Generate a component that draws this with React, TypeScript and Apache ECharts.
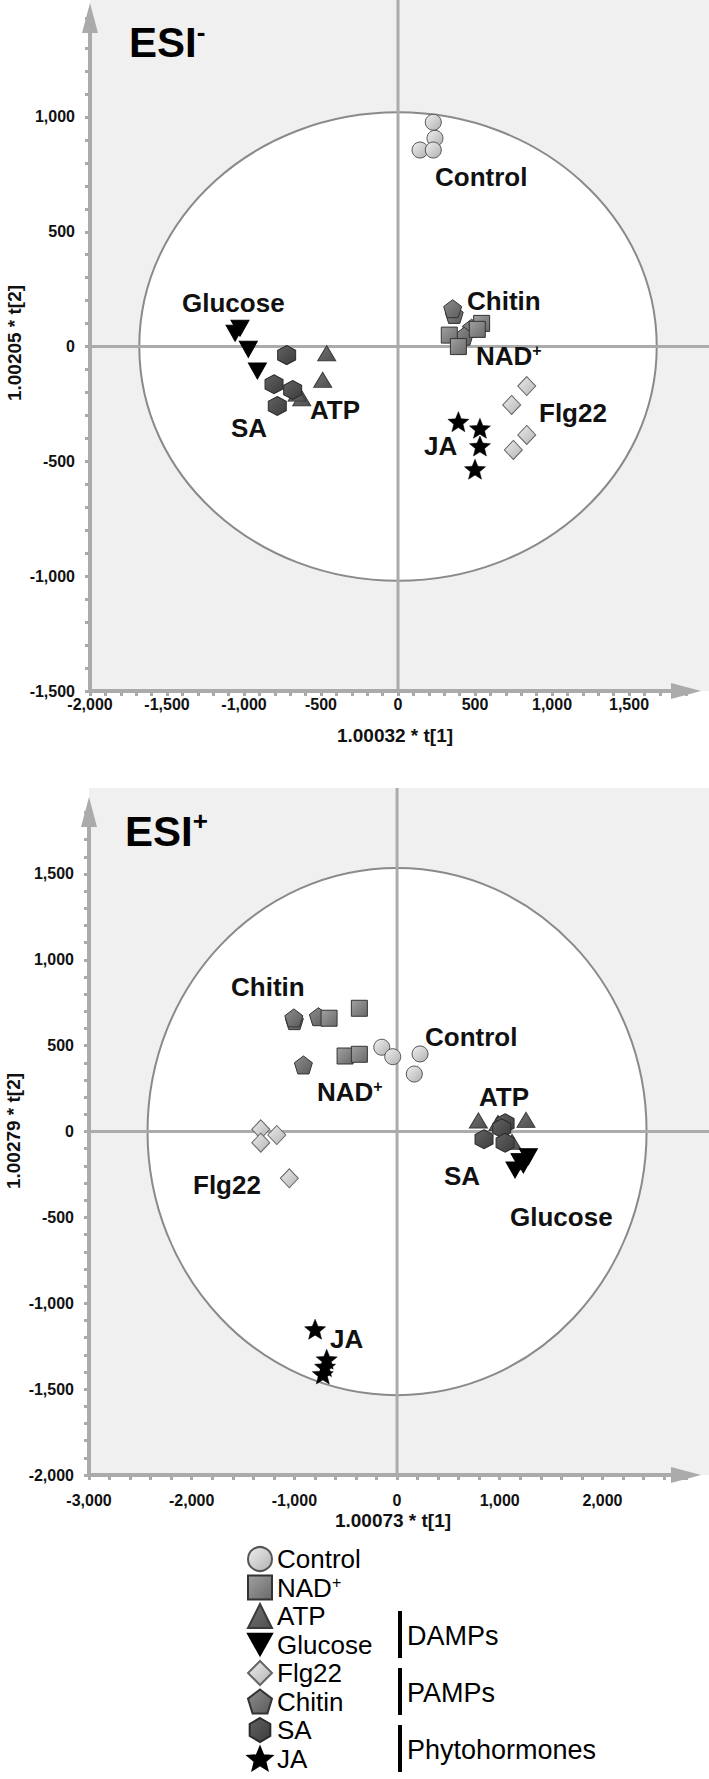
import React, { useEffect, useRef } from 'react';
import * as echarts from 'echarts';

// ---------- data ----------
const groupNames = ['Control', 'NAD+', 'ATP', 'Glucose', 'Flg22', 'Chitin', 'SA', 'JA'];
const groupClasses = ['DAMPs', 'PAMPs', 'Phytohormones'];

// ESI- score plot (t[1], t[2])
const negControl = [[229, 977], [240, 907], [143, 856], [229, 856]];
const negNAD = [[543, 101], [515, 75], [333, 50], [392, 0]];
const negATP = [[-463, -29], [-489, -145], [-625, -225], [-655, -205]];
const negGlucose = [[-1026, 80], [-1058, 58], [-972, -12], [-913, -106]];
const negFlg22 = [[836, -172], [738, -254], [836, -385], [749, -450]];
const negChitin = [[365, 140], [355, 165], [478, 80], [430, 45]];
const negSA = [[-723, -37], [-805, -164], [-684, -189], [-784, -259]];
const negJA = [[392, -327], [532, -356], [532, -433], [500, -534]];

// ESI+ score plot (t[1], t[2])
const posControl = [[-149, 491], [-42, 436], [224, 452], [168, 335]];
const posNAD = [[-662, 660], [-367, 718], [-506, 440], [-367, 450]];
const posATP = [[792, 64], [1256, 68], [983, 50], [1120, -60]];
const posGlucose = [[1279, -146], [1198, -175], [1149, -224], [1230, -195]];
const posFlg22 = [[-1327, 13], [-1171, -20], [-1327, -65], [-1049, -272]];
const posChitin = [[-1000, 646], [-1005, 662], [-766, 669], [-912, 388]];
const posSA = [[847, -45], [1052, 48], [1019, 19], [1052, -65]];
const posJA = [[-798, -1151], [-685, -1326], [-701, -1369], [-723, -1412]];

// Hotelling T2 ellipses: [cx, cy, semi-axis t1, semi-axis t2]
const negEllipse = [0, 0, 1680, 1020];
const posEllipse = [0, 0, 2430, 1535];

// axis ranges and labelled ticks
const negXRange = [-2000, 1870];
const negYRange = [-1500, 1431];
const posXRange = [-3000, 2814];
const posYRange = [-2000, 1861];
const negXTicks = [-2000, -1500, -1000, -500, 0, 500, 1000, 1500];
const negYTicks = [-1500, -1000, -500, 0, 500, 1000];
const posXTicks = [-3000, -2000, -1000, 0, 1000, 2000];
const posYTicks = [-2000, -1500, -1000, -500, 0, 500, 1000, 1500];

const FONT = '"Liberation Sans", Arial, Helvetica, sans-serif';

function grad(c1: string, c2: string) {
  return new echarts.graphic.LinearGradient(0, 0, 1, 1, [
    { offset: 0, color: c1 },
    { offset: 1, color: c2 },
  ]);
}

const PENTAGON = 'path://M50,0 L100,38 L81,100 L19,100 L0,38 Z';
const HEXAGON = 'path://M50,0 L93,25 L93,75 L50,100 L7,75 L7,25 Z';
const STAR =
  'path://M50,2 L62.93,34.2 L97.55,36.55 L70.92,58.8 L79.39,92.45 L50,74 L20.61,92.45 L29.08,58.8 L2.45,36.55 L37.07,34.2 Z';
const DOWN_TRIANGLE = 'path://M0,0 L100,0 L50,90 Z';

const markerStyle: Record<string, any> = {
  Control: { symbol: 'circle', symbolSize: 16, itemStyle: { color: grad('#f0f0f0', '#b0b0b0'), borderColor: '#555', borderWidth: 1 } },
  'NAD+': { symbol: 'rect', symbolSize: 16, itemStyle: { color: grad('#a0a0a0', '#6a6a6a'), borderColor: '#333', borderWidth: 1 } },
  ATP: { symbol: 'triangle', symbolSize: [18, 15], itemStyle: { color: grad('#747474', '#4e4e4e'), borderColor: '#3a3a3a', borderWidth: 1 } },
  Glucose: { symbol: DOWN_TRIANGLE, symbolSize: [18, 16], itemStyle: { color: '#000', borderColor: '#000', borderWidth: 1 } },
  Flg22: { symbol: 'diamond', symbolSize: [18, 19], itemStyle: { color: grad('#ececec', '#b4b4b4'), borderColor: '#666', borderWidth: 1 } },
  Chitin: { symbol: PENTAGON, symbolSize: [18, 18], itemStyle: { color: grad('#8e8e8e', '#5a5a5a'), borderColor: '#333', borderWidth: 1 } },
  SA: { symbol: HEXAGON, symbolSize: [18, 19], itemStyle: { color: grad('#626262', '#3c3c3c'), borderColor: '#2a2a2a', borderWidth: 1 } },
  JA: { symbol: STAR, symbolSize: [21, 20], itemStyle: { color: '#000', borderColor: '#000', borderWidth: 0.5 } },
};

const negData: Record<string, number[][]> = {
  Control: negControl, 'NAD+': negNAD, ATP: negATP, Glucose: negGlucose,
  Flg22: negFlg22, Chitin: negChitin, SA: negSA, JA: negJA,
};
const posData: Record<string, number[][]> = {
  Control: posControl, 'NAD+': posNAD, ATP: posATP, Glucose: posGlucose,
  Flg22: posFlg22, Chitin: posChitin, SA: posSA, JA: posJA,
};
// drawing order (later on top)
const drawOrder = ['Chitin', 'NAD+', 'Control', 'ATP', 'SA', 'Glucose', 'Flg22', 'JA'];

const fmt = (v: number) => Math.round(v).toLocaleString('en-US');

function makeAxes(idx: number, xr: number[], yr: number[], xTicks: number[], yTicks: number[], xInt: number, xLabelMargin: number) {
  const common = {
    type: 'value',
    gridIndex: idx,
    splitLine: { show: false },
    axisLine: {
      show: true,
      onZero: false,
      symbol: ['none', 'triangle'],
      symbolSize: [16, 30],
      lineStyle: { color: '#ababab', width: 4 },
    },
    axisTick: { show: true, length: 5, lineStyle: { color: '#ababab', width: 3 } },
    axisLabel: { color: '#111', fontSize: 16, fontWeight: 'bold', fontFamily: FONT },
  };
  const xs = new Set(xTicks);
  const ys = new Set(yTicks);
  const x = {
    ...common,
    min: xr[0], max: xr[1], interval: xInt,
    axisLabel: { ...common.axisLabel, margin: xLabelMargin, formatter: (v: number) => (xs.has(Math.round(v)) ? fmt(v) : '') },
  };
  const y = {
    ...common,
    min: yr[0], max: yr[1], interval: 100,
    axisLabel: { ...common.axisLabel, margin: 15, formatter: (v: number) => (ys.has(Math.round(v)) ? fmt(v) : '') },
  };
  return { x, y };
}

function ellipseSeries(idx: number, ell: number[], bgTop: number) {
  return {
    type: 'custom',
    xAxisIndex: idx,
    yAxisIndex: idx,
    z: 1,
    silent: true,
    clip: false,
    data: [ell],
    renderItem: (params: any, api: any) => {
      const c = api.coord([api.value(0), api.value(1)]);
      const e = api.coord([api.value(0) + api.value(2), api.value(1) + api.value(3)]);
      const cs = params.coordSys;
      return {
        type: 'group',
        children: [
          {
            type: 'ellipse',
            shape: { cx: c[0], cy: c[1], rx: e[0] - c[0], ry: c[1] - e[1] },
            style: { fill: '#ffffff', stroke: '#8a8a8a', lineWidth: 2 },
          },
          {
            type: 'line',
            shape: { x1: cs.x, y1: c[1], x2: api.getWidth(), y2: c[1] },
            style: { stroke: '#ababab', lineWidth: 3 },
          },
          {
            type: 'line',
            shape: { x1: c[0], y1: bgTop, x2: c[0], y2: cs.y + cs.height },
            style: { stroke: '#ababab', lineWidth: 3 },
          },
        ],
      };
    },
  };
}

function label(text: string, x: number, y: number, sup?: string) {
  const rich = {
    a: { fontSize: 26, fontWeight: 'bold', fontFamily: FONT, fill: '#111', lineHeight: 28 },
    b: { fontSize: 16, fontWeight: 'bold', fontFamily: FONT, fill: '#111', verticalAlign: 'top' },
  };
  return {
    type: 'text',
    x,
    y,
    z: 100,
    style: {
      text: sup ? `{a|${text}}{b|${sup}}` : `{a|${text}}`,
      rich,
      align: 'left',
      verticalAlign: 'middle',
    },
  };
}

function title(text: string, sup: string, x: number, y: number) {
  return {
    type: 'text',
    x,
    y,
    z: 100,
    style: {
      text: `{a|${text}}{b|${sup}}`,
      rich: {
        a: { fontSize: 42, fontWeight: 'bold', fontFamily: FONT, fill: '#000', lineHeight: 46 },
        b: { fontSize: 26, fontWeight: 'bold', fontFamily: FONT, fill: '#000', verticalAlign: 'top' },
      },
      align: 'left',
      verticalAlign: 'middle',
    },
  };
}

function axisTitle(text: string, x: number, y: number, rotate = false) {
  return {
    type: 'text',
    x,
    y,
    z: 100,
    rotation: rotate ? Math.PI / 2 : 0,
    style: {
      text,
      fontSize: 19,
      fontWeight: 'bold',
      fontFamily: FONT,
      fill: '#111',
      align: 'center',
      verticalAlign: 'middle',
    },
  };
}

function plainText(text: string, x: number, y: number) {
  return {
    type: 'text',
    x,
    y,
    z: 100,
    style: { text, fontSize: 27, fontFamily: FONT, fill: '#000', align: 'left', verticalAlign: 'middle' },
  };
}

export default function App() {
  const ref = useRef<HTMLDivElement>(null);

  useEffect(() => {
    document.body.style.margin = '0';
    const chart = echarts.init(ref.current!, null, { renderer: 'svg' });

    const a0 = makeAxes(0, negXRange, negYRange, negXTicks, negYTicks, 100, 5);
    const a1 = makeAxes(1, posXRange, posYRange, posXTicks, posYTicks, 200, 17);

    const scatter: any[] = [];
    [negData, posData].forEach((set, gi) => {
      drawOrder.forEach((name) => {
        const st = markerStyle[name];
        scatter.push({
          type: 'scatter',
          name,
          xAxisIndex: gi,
          yAxisIndex: gi,
          data: set[name],
          symbol: st.symbol,
          symbolSize: st.symbolSize,
          itemStyle: { ...st.itemStyle, opacity: 1 },
          emphasis: { disabled: true },
          z: 3,
        });
      });
    });

    const option: any = {
      animation: false,
      backgroundColor: '#ffffff',
      grid: [
        { left: 90, right: 23, top: 18, height: 673, show: false },
        { left: 89, right: 23, top: 812, height: 663, show: false },
      ],
      xAxis: [a0.x, a1.x],
      yAxis: [a0.y, a1.y],
      legend: {
        data: groupNames.map((n) => ({ name: n, icon: markerStyle[n].symbol })),
        orient: 'vertical',
        left: 247,
        top: 1546,
        height: 400,
        padding: 0,
        itemWidth: 24,
        itemHeight: 24,
        itemGap: 2.5,
        selectedMode: false,
        itemStyle: { opacity: 1 },
        textStyle: {
          fontSize: 25,
          fontFamily: FONT,
          color: '#000',
          lineHeight: 26,
          rich: {
            a: { fontSize: 26, fontFamily: FONT, color: '#000', lineHeight: 26 },
            b: { fontSize: 16, fontFamily: FONT, color: '#000', verticalAlign: 'top' },
          },
        },
        formatter: (n: string) => (n === 'NAD+' ? '{a|NAD}{b|+}' : `{a|${n}}`),
      },
      graphic: [
        { type: 'rect', z: -10, shape: { x: 90, y: 0, width: 619, height: 691 }, style: { fill: '#f0f0f0' } },
        { type: 'rect', z: -10, shape: { x: 89, y: 788, width: 620, height: 687 }, style: { fill: '#f0f0f0' } },
        title('ESI', '-', 129, 42),
        title('ESI', '+', 125, 831),
        axisTitle('1.00032 * t[1]', 395, 735),
        axisTitle('1.00205 * t[2]', 14, 343, true),
        axisTitle('1.00073 * t[1]', 393, 1520),
        axisTitle('1.00279 * t[2]', 13, 1131, true),
        // ESI- annotations
        label('Control', 435, 177),
        label('Chitin', 467, 301),
        label('NAD', 476, 356, '+'),
        label('Flg22', 539, 413),
        label('JA', 424, 446),
        label('Glucose', 182, 303),
        label('SA', 231, 428),
        label('ATP', 310, 410),
        // ESI+ annotations
        label('Chitin', 231, 987),
        label('Control', 425, 1037),
        label('NAD', 317, 1092, '+'),
        label('ATP', 479, 1097),
        label('SA', 444, 1176),
        label('Flg22', 193, 1185),
        label('Glucose', 510, 1217),
        label('JA', 330, 1339),
        // legend groups
        { type: 'rect', z: 100, shape: { x: 398, y: 1611, width: 4, height: 47 }, style: { fill: '#000' } },
        { type: 'rect', z: 100, shape: { x: 398, y: 1668, width: 4, height: 47 }, style: { fill: '#000' } },
        { type: 'rect', z: 100, shape: { x: 398, y: 1725, width: 4, height: 47 }, style: { fill: '#000' } },
        plainText(groupClasses[0], 407, 1636),
        plainText(groupClasses[1], 407, 1693),
        plainText(groupClasses[2], 407, 1750),
      ],
      series: [ellipseSeries(0, negEllipse, 0), ellipseSeries(1, posEllipse, 788), ...scatter],
    };

    chart.setOption(option);
    return () => chart.dispose();
  }, []);

  return (
    <div
      ref={ref}
      style={{ position: 'absolute', left: 0, top: 0, width: 709, height: 1779 }}
    />
  );
}
